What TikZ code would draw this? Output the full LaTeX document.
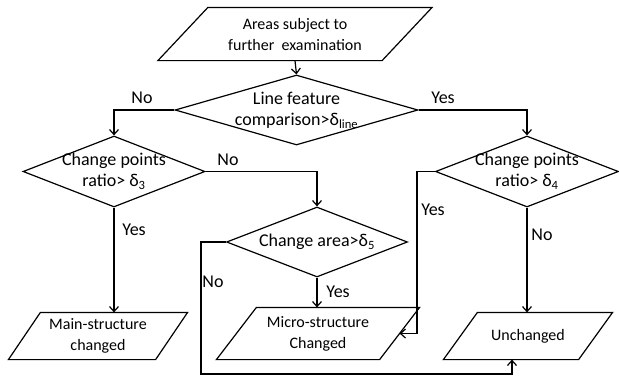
\documentclass[tikz,border=0pt]{standalone}
\usepackage{fontspec}
\setmainfont{Carlito}
\usetikzlibrary{shapes.geometric,arrows.meta,calc}
\begin{document}
\begin{tikzpicture}[x=1pt,y=-1pt,
  every path/.style={line width=1.2pt},
  flow/.style={-{Straight Barb[length=5pt,width=9pt]}},
  decision/.style={diamond, draw, inner sep=0pt},
  iobody/.style={rectangle, draw=none, inner sep=0pt, align=center,
    font=\fontsize{16}{21}\selectfont},
  big/.style={font=\fontsize{18}{21}\selectfont, align=center, inner sep=0pt},
  lbl/.style={font=\fontsize{18}{21}\selectfont, inner sep=0pt}]
\useasboundingbox (0,0) rectangle (619,376);

% input / output boxes: text bodies, outlines slanted below
\node[iobody, minimum width=223, minimum height=52] (src) at (295,34) {Areas subject to\\further~ examination};
\node[iobody, minimum width=146, minimum height=46] (main) at (98,336) {Main-structure\\changed};
\node[iobody, minimum width=162, minimum height=51] (micro) at (318,333.5) {Micro-structure\\Changed};
\node[iobody, minimum width=134, minimum height=46] (unch) at (528,336) {Unchanged};

\draw ($(src.north west)+(25,0)$) -- ($(src.north east)+(25,0)$) -- ($(src.south east)+(-25,0)$) -- ($(src.south west)+(-25,0)$) -- cycle;
\draw ($(main.north west)+(16,0)$) -- ($(main.north east)+(16,0)$) -- ($(main.south east)+(-16,0)$) -- ($(main.south west)+(-16,0)$) -- cycle;
\draw ($(micro.north west)+(20,0)$) -- ($(micro.north east)+(20,0)$) -- ($(micro.south east)+(-20,0)$) -- ($(micro.south west)+(-20,0)$) -- cycle;
\draw ($(unch.north west)+(17,0)$) -- ($(unch.north east)+(17,0)$) -- ($(unch.south east)+(-17,0)$) -- ($(unch.south west)+(-17,0)$) -- cycle;

% decisions
\node[decision, minimum width=243, minimum height=70] (d1) at (296.5,110) {};
\node[decision, minimum width=182, minimum height=71] (d2) at (114,171.5) {};
\node[decision, minimum width=181, minimum height=70] (d3) at (317,242) {};
\node[decision, minimum width=183, minimum height=71] (d4) at (527,171.5) {};

\node[big] (td1) at (d1) {Line feature\\comparison>δ\textsubscript{line}};
\node[big] (td2) at (d2) {Change points\\ratio> δ\textsubscript{3}};
\node[big] (td3) at (d3) {Change area>δ\textsubscript{5}};
\node[big] (td4) at (d4) {Change points\\ratio> δ\textsubscript{4}};

% connectors
\coordinate (yesbend) at (417,171.5);
\coordinate (loop) at (201,374);
\draw[flow] (src.south) -- (d1.north);
\draw[flow] (d1.west) -| (d2.north);
\draw[flow] (d1.east) -| (d4.north);
\draw[flow] (d2.east) -| (d3.north);
\draw[flow] (d2.south) -- (d2.south |- main.north);
\draw[flow] (d3.south) -- (d3.south |- micro.north);
\draw[flow] (d4.south) -- (d4.south |- unch.north);
\draw[flow] (d4.west) -- (yesbend) |- (micro.east);
\draw[flow] (d3.west) -| (loop) -| ($(unch.south)+(-16,0)$);

% branch labels
\node[lbl] (l1) at (142,98) {No};
\node[lbl] (l2) at (443,98) {Yes};
\node[lbl] (l3) at (228,160) {No};
\node[lbl] (l4) at (134,230) {Yes};
\node[lbl] (l5) at (433,210) {Yes};
\node[lbl] (l6) at (542,235) {No};
\node[lbl] (l7) at (338,292) {Yes};
\node[lbl] (l8) at (213,282) {No};
\end{tikzpicture}
\end{document}
